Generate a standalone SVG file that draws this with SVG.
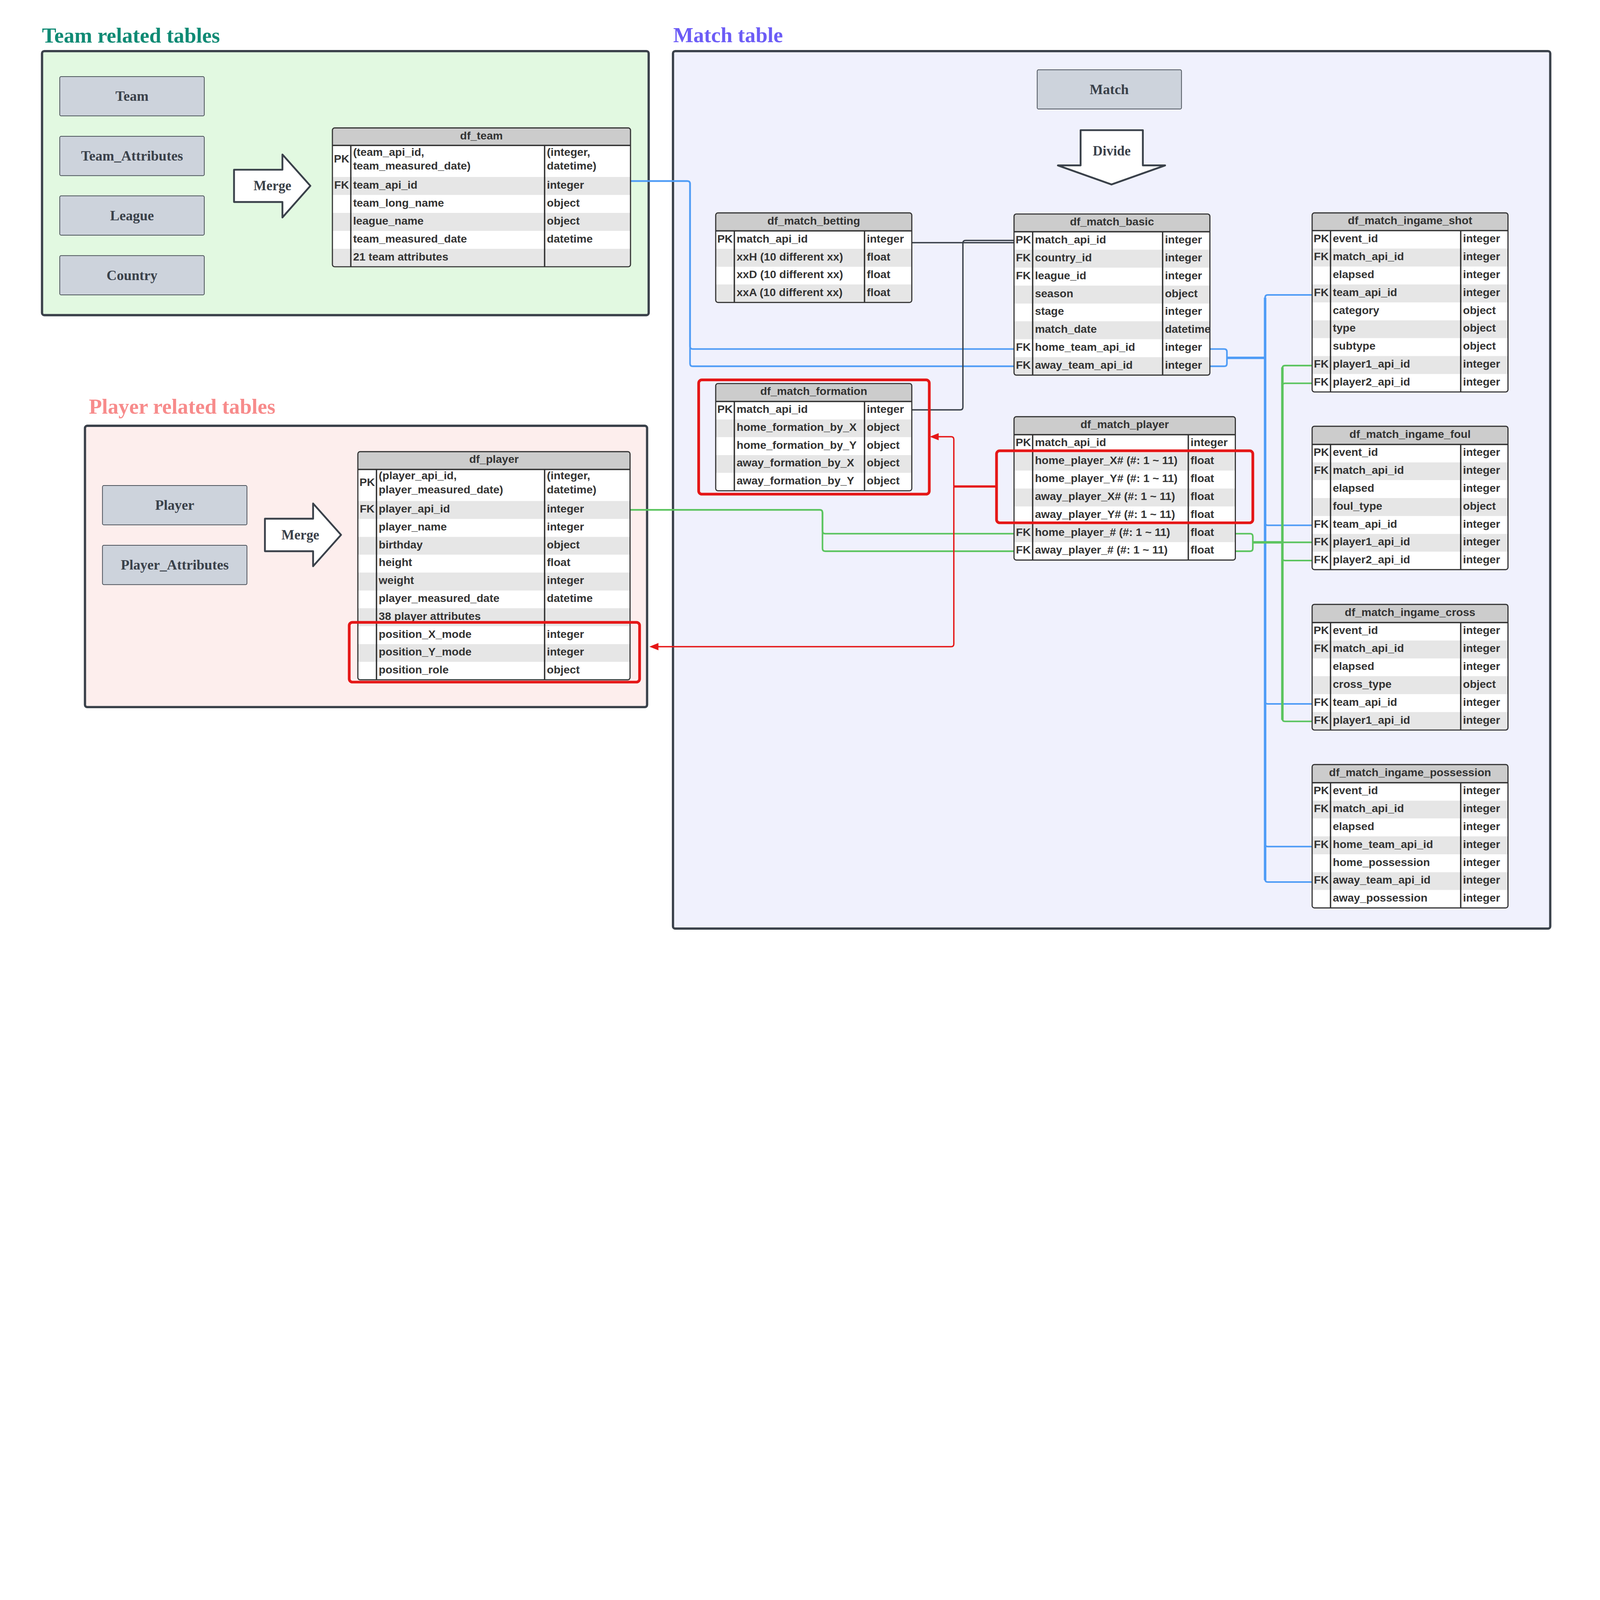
<svg xmlns="http://www.w3.org/2000/svg" width="7042" height="4296" viewBox="0 0 7042 4296" preserveAspectRatio="xMinYMin meet">
<style>
:root{width:100vw;height:100vh}
.ct{stroke:#3a414a;stroke-width:10}
.nd{fill:#cdd3dc;stroke:#3a414a;stroke-width:3}
.nt{font-family:"Liberation Serif","Times New Roman",serif;font-weight:bold;font-size:62px;fill:#3a414a;text-anchor:middle}
.at{font-family:"Liberation Serif","Times New Roman",serif;font-weight:bold;font-size:60px;fill:#3a414a;text-anchor:middle}
.ar{fill:#fff;stroke:#3a414a;stroke-width:8;stroke-linejoin:round}
.ttl{font-family:"Liberation Serif","Times New Roman",serif;font-weight:bold;font-size:94px}
.tb{fill:#fff}
.hd{fill:#ccc}
.gr{fill:#e6e6e6}
.ln{fill:none;stroke:#333;stroke-width:6}
.ol{fill:none;stroke:#333;stroke-width:5}
.tx{font-family:"Liberation Sans",Arial,sans-serif;font-weight:bold;font-size:49px;fill:#333}
.c{text-anchor:middle}
.cb{fill:none;stroke:#4f9cf6;stroke-width:7}
.cg{fill:none;stroke:#5bc45f;stroke-width:7}
.cr{fill:none;stroke:#e51717;stroke-width:6}
.cd{fill:none;stroke:#3a414a;stroke-width:6}
.hl{fill:none;stroke:#e51717;stroke-width:12}
</style>
<defs>
<marker id="ra" viewBox="0 0 40 32" markerWidth="40" markerHeight="32" refX="30" refY="16" orient="auto" markerUnits="userSpaceOnUse">
<path d="M0,0L40,16L0,32Z" fill="#e51717"/>
</marker>
</defs>
<rect width="7042" height="4296" fill="#fff"/>
<g id="containers">
<rect class="ct" x="185" y="225" width="2670" height="1162" rx="10" fill="#e2f9e1"/>
<rect class="ct" x="374" y="1874" width="2474" height="1238" rx="10" fill="#fdeeed"/>
<rect class="ct" x="2962" y="225" width="3861" height="3862" rx="10" fill="#f0f1fd"/>
<text class="ttl" x="185" y="187" fill="#0f8a74">Team related tables</text>
<text class="ttl" x="391" y="1821" fill="#f78b8b">Player related tables</text>
<text class="ttl" x="2963" y="185" fill="#6c5cf6">Match table</text>
</g>

<g id="node-team"><rect class="nd" x="263" y="337" width="636" height="173" rx="6"/><text class="nt" x="581" y="444">Team</text></g>
<g id="node-team-attributes"><rect class="nd" x="263" y="600" width="636" height="173" rx="6"/><text class="nt" x="581" y="707">Team_Attributes</text></g>
<g id="node-league"><rect class="nd" x="263" y="862" width="636" height="173" rx="6"/><text class="nt" x="581" y="969">League</text></g>
<g id="node-country"><rect class="nd" x="263" y="1125" width="636" height="173" rx="6"/><text class="nt" x="581" y="1232">Country</text></g>
<g id="node-player"><rect class="nd" x="451" y="2137" width="636" height="173" rx="6"/><text class="nt" x="769" y="2244">Player</text></g>
<g id="node-player-attributes"><rect class="nd" x="451" y="2400" width="636" height="173" rx="6"/><text class="nt" x="769" y="2507">Player_Attributes</text></g>
<g id="node-match"><rect class="nd" x="4565" y="307" width="635" height="173" rx="6"/><text class="nt" x="4882" y="414">Match</text></g>

<g id="arrow-merge-team"><polygon class="ar" points="1030,747 1243,747 1243,680 1366,818 1243,957 1243,889 1030,889"/><text class="at" x="1199" y="838">Merge</text></g>
<g id="arrow-merge-player"><polygon class="ar" points="1166,2283 1378,2283 1378,2216 1501,2354 1378,2492 1378,2426 1166,2426"/><text class="at" x="1322" y="2374">Merge</text></g>
<g id="arrow-divide"><polygon class="ar" points="4756,573 5030,573 5030,728 5128,728 4892,812 4656,728 4756,728"/><text class="at" x="4893" y="684">Divide</text></g>

<g id="connectors">
<path class="cb" d="M2775,797H3025Q3037,797 3037,809V1524Q3037,1536 3049,1536H4463"/>
<path class="cb" d="M2775,797H3025Q3037,797 3037,809V1600Q3037,1612 3049,1612H4463"/>
<path class="cb" d="M5325,1536H5388Q5400,1536 5400,1548V1600Q5400,1612 5388,1612H5325"/>
<path class="cb" d="M5400,1575H5568" style="stroke-width:11"/>
<path class="cb" d="M5568,1310V3874" style="stroke-width:11"/>
<path class="cb" d="M5568,1575V1310Q5568,1298 5580,1298H5775"/>
<path class="cb" d="M5568,1575V2300Q5568,2312 5580,2312H5775"/>
<path class="cb" d="M5568,1575V3086Q5568,3098 5580,3098H5775"/>
<path class="cb" d="M5568,1575V3714Q5568,3726 5580,3726H5775"/>
<path class="cb" d="M5568,1575V3870Q5568,3882 5580,3882H5775"/>

<path class="cg" d="M2773,2244H3608Q3620,2244 3620,2256V2337Q3620,2349 3632,2349H4463"/>
<path class="cg" d="M2773,2244H3608Q3620,2244 3620,2256V2414Q3620,2426 3632,2426H4463"/>
<path class="cg" d="M5437,2349H5502Q5514,2349 5514,2361V2414Q5514,2426 5502,2426H5437"/>
<path class="cg" d="M5514,2387H5644" style="stroke-width:11"/>
<path class="cg" d="M5514,2387H5775"/>
<path class="cg" d="M5644,1617V3168" style="stroke-width:11"/>
<path class="cg" d="M5644,2387V1621Q5644,1609 5656,1609H5775"/>
<path class="cg" d="M5644,2387V1699Q5644,1687 5656,1687H5775"/>
<path class="cg" d="M5644,2387V2455Q5644,2467 5656,2467H5775"/>
<path class="cg" d="M5644,2387V3163Q5644,3175 5656,3175H5775"/>

<path class="cd" d="M4013,1068H4463"/>
<path class="cd" d="M4013,1804H4226Q4238,1804 4238,1792V1070Q4238,1058 4250,1058H4463"/>

<path class="cr" d="M4386,2141H4198" style="stroke-width:10"/>
<path class="cr" d="M4198,2141V1934Q4198,1922 4186,1922H4102" marker-end="url(#ra)"/>
<path class="cr" d="M4198,2141V2834Q4198,2846 4186,2846H2868" marker-end="url(#ra)"/>
</g>

<g id="df_team">
<rect class="tb" x="1463" y="563" width="1312" height="611" rx="10"/>
<path class="hd" d="M1463,640V573Q1463,563 1473,563H2765Q2775,563 2775,573V640Z"/>
<rect class="gr" x="1463" y="779" width="1312" height="79"/>
<rect class="gr" x="1463" y="937" width="1312" height="79"/>
<rect class="gr" x="1463" y="1095" width="1312" height="76"/>
<path class="ln" d="M1463,640H2775M1544,640V1174M2397,640V1174"/>
<rect class="ol" x="1463" y="563" width="1312" height="611" rx="10"/>
<text class="tx c" x="2119" y="613">df_team</text>
<text class="tx c" x="1503.5" y="716">PK</text>
<text class="tx" x="1554" y="686">(team_api_id,</text>
<text class="tx" x="1554" y="746">team_measured_date)</text>
<text class="tx" x="2407" y="686">(integer,</text>
<text class="tx" x="2407" y="746">datetime)</text>
<text class="tx c" x="1503.5" y="830">FK</text><text class="tx" x="1554" y="830">team_api_id</text><text class="tx" x="2407" y="830">integer</text>
<text class="tx" x="1554" y="909">team_long_name</text><text class="tx" x="2407" y="909">object</text>
<text class="tx" x="1554" y="988">league_name</text><text class="tx" x="2407" y="988">object</text>
<text class="tx" x="1554" y="1067">team_measured_date</text><text class="tx" x="2407" y="1067">datetime</text>
<text class="tx" x="1554" y="1146">21 team attributes</text>
</g>

<g id="df_player">
<rect class="tb" x="1575" y="1988" width="1198" height="1004" rx="10"/>
<path class="hd" d="M1575,2066V1998Q1575,1988 1585,1988H2763Q2773,1988 2773,1998V2066Z"/>
<rect class="gr" x="1575" y="2205" width="1198" height="79"/>
<rect class="gr" x="1575" y="2363" width="1198" height="78"/>
<rect class="gr" x="1575" y="2520" width="1198" height="79"/>
<rect class="gr" x="1575" y="2677" width="1198" height="79"/>
<rect class="gr" x="1575" y="2835" width="1198" height="78"/>
<path class="ln" d="M1575,2066H2773M1657,2066V2992M2397,2066V2992"/>
<rect class="ol" x="1575" y="1988" width="1198" height="1004" rx="10"/>
<text class="tx c" x="2174" y="2038">df_player</text>
<text class="tx c" x="1616" y="2139">PK</text>
<text class="tx" x="1667" y="2110">(player_api_id,</text>
<text class="tx" x="1667" y="2171">player_measured_date)</text>
<text class="tx" x="2407" y="2110">(integer,</text>
<text class="tx" x="2407" y="2171">datetime)</text>
<text class="tx c" x="1616" y="2256">FK</text><text class="tx" x="1667" y="2256">player_api_id</text><text class="tx" x="2407" y="2256">integer</text>
<text class="tx" x="1667" y="2334">player_name</text><text class="tx" x="2407" y="2334">integer</text>
<text class="tx" x="1667" y="2413">birthday</text><text class="tx" x="2407" y="2413">object</text>
<text class="tx" x="1667" y="2492">height</text><text class="tx" x="2407" y="2492">float</text>
<text class="tx" x="1667" y="2571">weight</text><text class="tx" x="2407" y="2571">integer</text>
<text class="tx" x="1667" y="2649">player_measured_date</text><text class="tx" x="2407" y="2649">datetime</text>
<text class="tx" x="1667" y="2728">38 player attributes</text>
<text class="tx" x="1667" y="2807">position_X_mode</text><text class="tx" x="2407" y="2807">integer</text>
<text class="tx" x="1667" y="2885">position_Y_mode</text><text class="tx" x="2407" y="2885">integer</text>
<text class="tx" x="1667" y="2964">position_role</text><text class="tx" x="2407" y="2964">object</text>
</g>

<g id="df_match_betting">
<rect class="tb" x="3150" y="937" width="863" height="394" rx="10"/>
<path class="hd" d="M3150,1016V947Q3150,937 3160,937H4003Q4013,937 4013,947V1016Z"/>
<rect class="gr" x="3150" y="1095" width="863" height="79"/>
<rect class="gr" x="3150" y="1252" width="863" height="76"/>
<path class="ln" d="M3150,1016H4013M3232,1016V1331M3805,1016V1331"/>
<rect class="ol" x="3150" y="937" width="863" height="394" rx="10"/>
<text class="tx c" x="3581.5" y="988">df_match_betting</text>
<text class="tx c" x="3191" y="1067">PK</text><text class="tx" x="3242" y="1067">match_api_id</text><text class="tx" x="3815" y="1067">integer</text>
<text class="tx" x="3242" y="1146">xxH (10 different xx)</text><text class="tx" x="3815" y="1146">float</text>
<text class="tx" x="3242" y="1224">xxD (10 different xx)</text><text class="tx" x="3815" y="1224">float</text>
<text class="tx" x="3242" y="1303">xxA (10 different xx)</text><text class="tx" x="3815" y="1303">float</text>
</g>

<g id="df_match_formation">
<rect class="tb" x="3150" y="1688" width="863" height="472" rx="10"/>
<path class="hd" d="M3150,1767V1698Q3150,1688 3160,1688H4003Q4013,1688 4013,1698V1767Z"/>
<rect class="gr" x="3150" y="1846" width="863" height="78"/>
<rect class="gr" x="3150" y="2003" width="863" height="78"/>
<path class="ln" d="M3150,1767H4013M3232,1767V2160M3805,1767V2160"/>
<rect class="ol" x="3150" y="1688" width="863" height="472" rx="10"/>
<text class="tx c" x="3581.5" y="1739">df_match_formation</text>
<text class="tx c" x="3191" y="1818">PK</text><text class="tx" x="3242" y="1818">match_api_id</text><text class="tx" x="3815" y="1818">integer</text>
<text class="tx" x="3242" y="1896">home_formation_by_X</text><text class="tx" x="3815" y="1896">object</text>
<text class="tx" x="3242" y="1975">home_formation_by_Y</text><text class="tx" x="3815" y="1975">object</text>
<text class="tx" x="3242" y="2053">away_formation_by_X</text><text class="tx" x="3815" y="2053">object</text>
<text class="tx" x="3242" y="2132">away_formation_by_Y</text><text class="tx" x="3815" y="2132">object</text>
</g>

<g id="df_match_basic">
<rect class="tb" x="4463" y="942" width="862" height="709" rx="10"/>
<path class="hd" d="M4463,1020V952Q4463,942 4473,942H5315Q5325,942 5325,952V1020Z"/>
<rect class="gr" x="4463" y="1099" width="862" height="79"/>
<rect class="gr" x="4463" y="1257" width="862" height="79"/>
<rect class="gr" x="4463" y="1414" width="862" height="79"/>
<rect class="gr" x="4463" y="1572" width="862" height="76"/>
<path class="ln" d="M4463,1020H5325M4545,1020V1651M5117,1020V1651"/>
<rect class="ol" x="4463" y="942" width="862" height="709" rx="10"/>
<text class="tx c" x="4894" y="992">df_match_basic</text>
<text class="tx c" x="4504" y="1071">PK</text><text class="tx" x="4555" y="1071">match_api_id</text><text class="tx" x="5127" y="1071">integer</text>
<text class="tx c" x="4504" y="1150">FK</text><text class="tx" x="4555" y="1150">country_id</text><text class="tx" x="5127" y="1150">integer</text>
<text class="tx c" x="4504" y="1229">FK</text><text class="tx" x="4555" y="1229">league_id</text><text class="tx" x="5127" y="1229">integer</text>
<text class="tx" x="4555" y="1308">season</text><text class="tx" x="5127" y="1308">object</text>
<text class="tx" x="4555" y="1386">stage</text><text class="tx" x="5127" y="1386">integer</text>
<text class="tx" x="4555" y="1465">match_date</text><text class="tx" x="5127" y="1465">datetime</text>
<text class="tx c" x="4504" y="1544">FK</text><text class="tx" x="4555" y="1544">home_team_api_id</text><text class="tx" x="5127" y="1544">integer</text>
<text class="tx c" x="4504" y="1623">FK</text><text class="tx" x="4555" y="1623">away_team_api_id</text><text class="tx" x="5127" y="1623">integer</text>
</g>

<g id="df_match_player">
<rect class="tb" x="4463" y="1834" width="974" height="631" rx="10"/>
<path class="hd" d="M4463,1913V1844Q4463,1834 4473,1834H5427Q5437,1834 5437,1844V1913Z"/>
<rect class="gr" x="4463" y="1992" width="974" height="79"/>
<rect class="gr" x="4463" y="2150" width="974" height="79"/>
<rect class="gr" x="4463" y="2307" width="974" height="79"/>
<path class="ln" d="M4463,1913H5437M4545,1913V2465M5230,1913V2465"/>
<rect class="ol" x="4463" y="1834" width="974" height="631" rx="10"/>
<text class="tx c" x="4950" y="1885">df_match_player</text>
<text class="tx c" x="4504" y="1964">PK</text><text class="tx" x="4555" y="1964">match_api_id</text><text class="tx" x="5240" y="1964">integer</text>
<text class="tx" x="4555" y="2043">home_player_X# (#: 1 ~ 11)</text><text class="tx" x="5240" y="2043">float</text>
<text class="tx" x="4555" y="2122">home_player_Y# (#: 1 ~ 11)</text><text class="tx" x="5240" y="2122">float</text>
<text class="tx" x="4555" y="2201">away_player_X# (#: 1 ~ 11)</text><text class="tx" x="5240" y="2201">float</text>
<text class="tx" x="4555" y="2279">away_player_Y# (#: 1 ~ 11)</text><text class="tx" x="5240" y="2279">float</text>
<text class="tx c" x="4504" y="2358">FK</text><text class="tx" x="4555" y="2358">home_player_# (#: 1 ~ 11)</text><text class="tx" x="5240" y="2358">float</text>
<text class="tx c" x="4504" y="2437">FK</text><text class="tx" x="4555" y="2437">away_player_# (#: 1 ~ 11)</text><text class="tx" x="5240" y="2437">float</text>
</g>

<g id="df_match_ingame_shot">
<rect class="tb" x="5775" y="937" width="862" height="788" rx="10"/>
<path class="hd" d="M5775,1015V947Q5775,937 5785,937H6627Q6637,937 6637,947V1015Z"/>
<rect class="gr" x="5775" y="1094" width="862" height="79"/>
<rect class="gr" x="5775" y="1252" width="862" height="79"/>
<rect class="gr" x="5775" y="1410" width="862" height="78"/>
<rect class="gr" x="5775" y="1567" width="862" height="79"/>
<path class="ln" d="M5775,1015H6637M5856,1015V1725M6429,1015V1725"/>
<rect class="ol" x="5775" y="937" width="862" height="788" rx="10"/>
<text class="tx c" x="6206" y="987">df_match_ingame_shot</text>
<text class="tx c" x="5815.5" y="1066">PK</text><text class="tx" x="5866" y="1066">event_id</text><text class="tx" x="6439" y="1066">integer</text>
<text class="tx c" x="5815.5" y="1145">FK</text><text class="tx" x="5866" y="1145">match_api_id</text><text class="tx" x="6439" y="1145">integer</text>
<text class="tx" x="5866" y="1224">elapsed</text><text class="tx" x="6439" y="1224">integer</text>
<text class="tx c" x="5815.5" y="1303">FK</text><text class="tx" x="5866" y="1303">team_api_id</text><text class="tx" x="6439" y="1303">integer</text>
<text class="tx" x="5866" y="1382">category</text><text class="tx" x="6439" y="1382">object</text>
<text class="tx" x="5866" y="1460">type</text><text class="tx" x="6439" y="1460">object</text>
<text class="tx" x="5866" y="1539">subtype</text><text class="tx" x="6439" y="1539">object</text>
<text class="tx c" x="5815.5" y="1618">FK</text><text class="tx" x="5866" y="1618">player1_api_id</text><text class="tx" x="6439" y="1618">integer</text>
<text class="tx c" x="5815.5" y="1697">FK</text><text class="tx" x="5866" y="1697">player2_api_id</text><text class="tx" x="6439" y="1697">integer</text>
</g>

<g id="df_match_ingame_foul">
<rect class="tb" x="5775" y="1876" width="862" height="631" rx="10"/>
<path class="hd" d="M5775,1956V1886Q5775,1876 5785,1876H6627Q6637,1876 6637,1886V1956Z"/>
<rect class="gr" x="5775" y="2035" width="862" height="78"/>
<rect class="gr" x="5775" y="2192" width="862" height="79"/>
<rect class="gr" x="5775" y="2350" width="862" height="78"/>
<path class="ln" d="M5775,1956H6637M5856,1956V2507M6429,1956V2507"/>
<rect class="ol" x="5775" y="1876" width="862" height="631" rx="10"/>
<text class="tx c" x="6206" y="1927">df_match_ingame_foul</text>
<text class="tx c" x="5815.5" y="2007">PK</text><text class="tx" x="5866" y="2007">event_id</text><text class="tx" x="6439" y="2007">integer</text>
<text class="tx c" x="5815.5" y="2085">FK</text><text class="tx" x="5866" y="2085">match_api_id</text><text class="tx" x="6439" y="2085">integer</text>
<text class="tx" x="5866" y="2164">elapsed</text><text class="tx" x="6439" y="2164">integer</text>
<text class="tx" x="5866" y="2243">foul_type</text><text class="tx" x="6439" y="2243">object</text>
<text class="tx c" x="5815.5" y="2322">FK</text><text class="tx" x="5866" y="2322">team_api_id</text><text class="tx" x="6439" y="2322">integer</text>
<text class="tx c" x="5815.5" y="2400">FK</text><text class="tx" x="5866" y="2400">player1_api_id</text><text class="tx" x="6439" y="2400">integer</text>
<text class="tx c" x="5815.5" y="2479">FK</text><text class="tx" x="5866" y="2479">player2_api_id</text><text class="tx" x="6439" y="2479">integer</text>
</g>

<g id="df_match_ingame_cross">
<rect class="tb" x="5775" y="2660" width="862" height="553" rx="10"/>
<path class="hd" d="M5775,2740V2670Q5775,2660 5785,2660H6627Q6637,2660 6637,2670V2740Z"/>
<rect class="gr" x="5775" y="2819" width="862" height="79"/>
<rect class="gr" x="5775" y="2976" width="862" height="79"/>
<rect class="gr" x="5775" y="3134" width="862" height="76"/>
<path class="ln" d="M5775,2740H6637M5856,2740V3213M6429,2740V3213"/>
<rect class="ol" x="5775" y="2660" width="862" height="553" rx="10"/>
<text class="tx c" x="6206" y="2711">df_match_ingame_cross</text>
<text class="tx c" x="5815.5" y="2791">PK</text><text class="tx" x="5866" y="2791">event_id</text><text class="tx" x="6439" y="2791">integer</text>
<text class="tx c" x="5815.5" y="2870">FK</text><text class="tx" x="5866" y="2870">match_api_id</text><text class="tx" x="6439" y="2870">integer</text>
<text class="tx" x="5866" y="2948">elapsed</text><text class="tx" x="6439" y="2948">integer</text>
<text class="tx" x="5866" y="3027">cross_type</text><text class="tx" x="6439" y="3027">object</text>
<text class="tx c" x="5815.5" y="3106">FK</text><text class="tx" x="5866" y="3106">team_api_id</text><text class="tx" x="6439" y="3106">integer</text>
<text class="tx c" x="5815.5" y="3185">FK</text><text class="tx" x="5866" y="3185">player1_api_id</text><text class="tx" x="6439" y="3185">integer</text>
</g>

<g id="df_match_ingame_possession">
<rect class="tb" x="5775" y="3365" width="862" height="631" rx="10"/>
<path class="hd" d="M5775,3445V3375Q5775,3365 5785,3365H6627Q6637,3365 6637,3375V3445Z"/>
<rect class="gr" x="5775" y="3524" width="862" height="78"/>
<rect class="gr" x="5775" y="3681" width="862" height="79"/>
<rect class="gr" x="5775" y="3839" width="862" height="78"/>
<path class="ln" d="M5775,3445H6637M5856,3445V3996M6429,3445V3996"/>
<rect class="ol" x="5775" y="3365" width="862" height="631" rx="10"/>
<text class="tx c" x="6206" y="3416">df_match_ingame_possession</text>
<text class="tx c" x="5815.5" y="3496">PK</text><text class="tx" x="5866" y="3496">event_id</text><text class="tx" x="6439" y="3496">integer</text>
<text class="tx c" x="5815.5" y="3574">FK</text><text class="tx" x="5866" y="3574">match_api_id</text><text class="tx" x="6439" y="3574">integer</text>
<text class="tx" x="5866" y="3653">elapsed</text><text class="tx" x="6439" y="3653">integer</text>
<text class="tx c" x="5815.5" y="3732">FK</text><text class="tx" x="5866" y="3732">home_team_api_id</text><text class="tx" x="6439" y="3732">integer</text>
<text class="tx" x="5866" y="3811">home_possession</text><text class="tx" x="6439" y="3811">integer</text>
<text class="tx c" x="5815.5" y="3889">FK</text><text class="tx" x="5866" y="3889">away_team_api_id</text><text class="tx" x="6439" y="3889">integer</text>
<text class="tx" x="5866" y="3968">away_possession</text><text class="tx" x="6439" y="3968">integer</text>
</g>

<g id="highlights">
<rect class="hl" x="3075" y="1672" width="1015" height="503" rx="14"/>
<rect class="hl" x="4386" y="1984" width="1128" height="317" rx="14"/>
<rect class="hl" x="1537" y="2739" width="1278" height="263" rx="14"/>
</g>
</svg>
